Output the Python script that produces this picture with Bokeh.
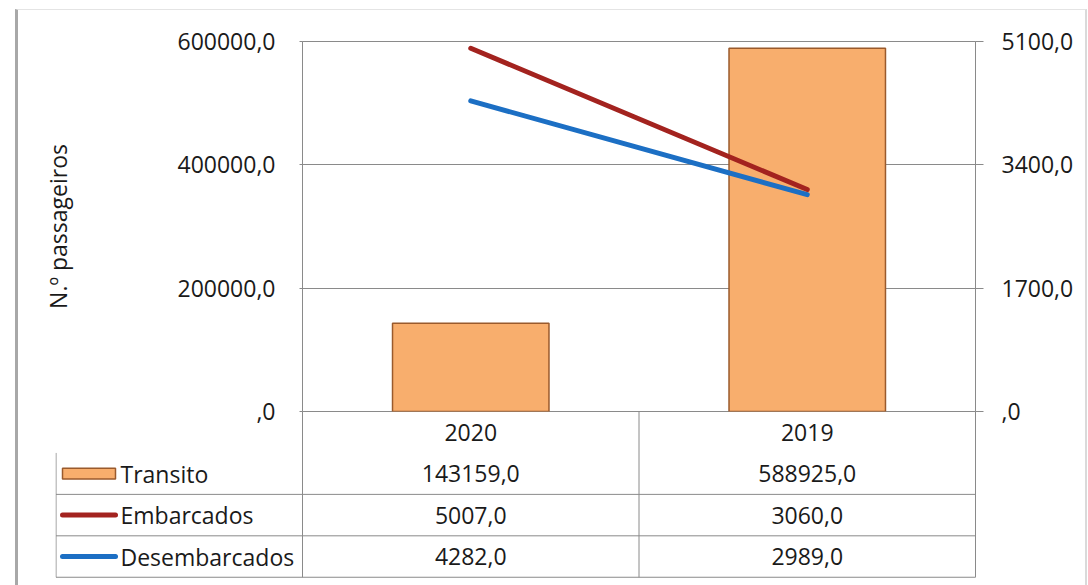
import numpy as np
from bokeh.plotting import figure
from bokeh.models import Range1d, LinearAxis, FixedTicker, Div
from bokeh.embed import file_html
from bokeh.resources import INLINE
from bokeh.core.properties import value

# ---------------- data ----------------
years = ["2020", "2019"]
series_names = ["Transito", "Embarcados", "Desembarcados"]
transito = [143159.0, 588925.0]
embarcados = [5007.0, 3060.0]
desembarcados = [4282.0, 2989.0]
left_ticks = [0, 200000, 400000, 600000]
right_ticks = [0, 1700, 3400, 5100]
y_label = "N.º passageiros"

# ---------------- style ----------------
FONT = "Open Sans"
FS = "23px"
BAR_FILL = "#F8AE6D"
BAR_LINE = "#9A5A2C"
RED = "#A3231F"
BLUE = "#1C6FC4"
GRID = "#8A8A8A"
TXT = "#1A1A1A"

W = 1086
BL, BR, BT = 302, 111, 41   # chart borders
FH = 370                    # chart frame height
OV = 16                     # overlap of chart bottom border and table
TL = 55                     # table left border
TH = 167                    # table height


def fmt(v):
    s = f"{v:.1f}".replace(".", ",")
    if s.startswith("0,"):
        s = s[1:]
    return s


n = len(years)
xc = np.arange(n) + 0.5
upx = n / (W - BL - BR)          # data units per pixel in x
XL = -(BL - TL) * upx

# ---------------- chart ----------------
p = figure(width=W, height=BT + FH + OV, x_range=Range1d(0, n), y_range=Range1d(0, left_ticks[-1]),
           output_backend="svg", toolbar_location=None, x_axis_location=None,
           min_border_left=BL, min_border_right=BR, min_border_top=BT, min_border_bottom=OV)
p.background_fill_color = "white"
p.border_fill_color = "white"
p.outline_line_color = GRID
p.outline_line_width = 1
p.xgrid.visible = False
p.ygrid.grid_line_color = GRID
p.ygrid.ticker = FixedTicker(ticks=left_ticks)

ya = p.yaxis[0]
ya.ticker = FixedTicker(ticks=left_ticks)
ya.major_label_overrides = {t: fmt(t) for t in left_ticks}
ya.major_label_text_font = FONT
ya.major_label_text_font_size = FS
ya.major_label_text_color = TXT
ya.major_label_standoff = 24
ya.major_tick_out = 3
ya.major_tick_in = 0
ya.minor_tick_out = 0
ya.minor_tick_in = 0
ya.axis_line_color = GRID
ya.major_tick_line_color = GRID
ya.axis_label = y_label
ya.axis_label_text_font = FONT
ya.axis_label_text_font_size = "23px"
ya.axis_label_text_font_style = "normal"
ya.axis_label_text_color = TXT
ya.axis_label_standoff = 100

p.extra_y_ranges = {"r": Range1d(0, right_ticks[-1])}
ra = LinearAxis(y_range_name="r", ticker=FixedTicker(ticks=right_ticks),
                major_label_overrides={t: fmt(t) for t in right_ticks})
ra.major_label_text_font = FONT
ra.major_label_text_font_size = FS
ra.major_label_text_color = TXT
ra.major_label_standoff = 18
ra.major_tick_out = 8
ra.major_tick_in = 0
ra.minor_tick_out = 0
ra.minor_tick_in = 0
ra.axis_line_color = GRID
ra.major_tick_line_color = GRID
p.add_layout(ra, "right")

p.vbar(x=xc, top=transito, width=0.465, bottom=0, fill_color=BAR_FILL,
       line_color=BAR_LINE, line_width=1.5)
p.line(x=xc, y=embarcados, y_range_name="r", line_color=RED, line_width=5, line_cap="round")
p.line(x=xc, y=desembarcados, y_range_name="r", line_color=BLUE, line_width=5, line_cap="round")

# ---------------- data table ----------------
rows = len(series_names) + 1
t = figure(width=W, height=TH, x_range=Range1d(XL, n + upx), y_range=Range1d(-0.03, rows),
           output_backend="svg", toolbar_location=None, x_axis_location=None, y_axis_location=None,
           min_border_left=TL, min_border_right=BR - 1, min_border_top=0, min_border_bottom=0,
           styles={"margin-top": f"-{OV}px"})
t.background_fill_alpha = 0
t.border_fill_alpha = 0
t.outline_line_color = None
t.xgrid.visible = False
t.ygrid.visible = False

# horizontal rules
hx0, hx1, hy = [], [], []
for r in range(rows - 1):
    hx0.append(XL + upx * 0.5)
    hx1.append(n)
    hy.append(float(r))
t.segment(x0=hx0, y0=hy, x1=hx1, y1=hy, line_color=GRID, line_width=1)
# vertical rules
vx = [XL + upx * 0.5] + [float(i) for i in range(n + 1)]
vtop = [rows - 1] + [rows] * (n + 1)
t.segment(x0=vx, y0=[0] * len(vx), x1=vx, y1=vtop, line_color=GRID, line_width=1)

# header
t.text(x=xc, y=[rows - 0.5] * n, text=years, text_align="center", text_baseline="middle",
       text_font=value(FONT), text_font_size=FS, text_color=TXT)

values = [transito, embarcados, desembarcados]
for k, vals in enumerate(values):
    yr = rows - 1.5 - k
    t.text(x=xc, y=[yr] * n, text=[fmt(v) for v in vals], text_align="center",
           text_baseline="middle", text_font=value(FONT), text_font_size=FS, text_color=TXT)

# legend keys + names
kx0 = XL + 7 * upx
kx1 = XL + 60 * upx
tx = XL + 65 * upx
t.quad(left=[kx0], right=[kx1], top=[rows - 1.5 + 0.13], bottom=[rows - 1.5 - 0.13],
       fill_color=BAR_FILL, line_color=BAR_LINE, line_width=1.5)
t.segment(x0=[kx0], y0=[rows - 2.5], x1=[kx1], y1=[rows - 2.5], line_color=RED,
          line_width=5, line_cap="round")
t.segment(x0=[kx0], y0=[rows - 3.5], x1=[kx1], y1=[rows - 3.5], line_color=BLUE,
          line_width=5, line_cap="round")
t.text(x=[tx] * len(series_names), y=[rows - 1.5 - k for k in range(len(series_names))],
       text=series_names, text_align="left", text_baseline="middle",
       text_font=value(FONT), text_font_size=FS, text_color=TXT)

# outer frame of the chart object
frame = Div(text="", styles={"position": "absolute", "left": "10px", "top": "4px",
                             "width": "1072px", "height": "578px",
                             "border-left": "3px solid #A8A8A8",
                             "border-top": "1px solid #E4E4E4",
                             "border-right": "2px solid #DADADA",
                             "border-bottom": "2px solid #CFCFCF",
                             "box-sizing": "border-box", "pointer-events": "none"})

open("out.html", "w").write(file_html([p, t, frame], INLINE))
